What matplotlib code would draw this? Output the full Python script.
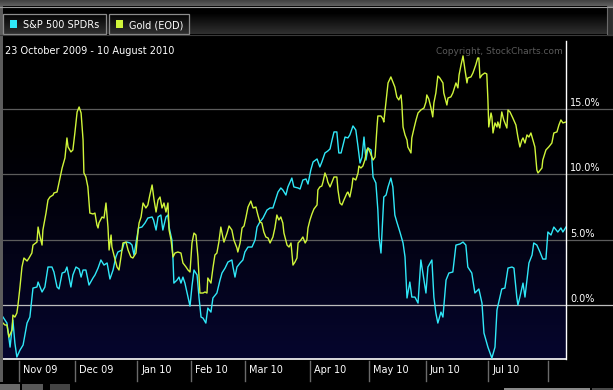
import numpy as np
import matplotlib.pyplot as plt
from matplotlib.patches import Rectangle
from matplotlib.lines import Line2D
from matplotlib.transforms import blended_transform_factory, offset_copy

plt.rcParams['font.family'] = 'DejaVu Sans'

# trading-session index (0 = 23 Oct 2009) and % change since start
sp_day = [
    0.0, 1.4, 2.5, 3.5, 4.2, 4.9, 6.0, 7.1, 8.5, 9.5,
    10.6, 12.0, 12.4, 13.8, 14.8, 15.9, 17.3, 18.0, 19.1, 19.8,
    20.9, 21.9, 22.6, 24.0, 24.7, 25.8, 26.9, 27.6, 28.3, 29.3,
    30.4, 31.8, 32.5, 33.6, 34.6, 35.7, 36.8, 37.8, 38.9, 39.9,
    40.6, 42.1, 42.8, 43.8, 44.9, 45.6, 46.3, 47.2, 47.9, 49.1,
    50.2, 51.2, 52.7, 53.2, 54.1, 54.8, 55.8, 56.5, 57.6, 58.3,
    58.7, 59.7, 60.1, 60.4, 61.5, 62.2, 62.9, 63.6, 64.3, 65.4,
    66.1, 66.8, 67.5, 68.6, 69.3, 70.0, 70.7, 71.7, 72.4, 73.5,
    74.2, 75.6, 76.7, 77.4, 78.5, 79.5, 80.9, 81.3, 82.0, 82.7,
    83.8, 84.8, 85.5, 86.6, 88.0, 89.1, 89.8, 90.8, 91.9, 93.3,
    94.4, 95.4, 96.5, 97.2, 98.2, 98.9, 100.0, 100.7, 102.1, 102.8,
    104.3, 105.0, 106.0, 107.1, 107.8, 108.8, 109.6, 111.0, 112.0, 112.7,
    113.8, 114.8, 115.6, 116.3, 117.0, 118.0, 118.7, 119.5, 120.2, 120.9,
    121.9, 122.6, 123.7, 124.7, 125.5, 126.2, 126.9, 127.6, 128.3, 129.0,
    130.1, 130.4, 130.8, 131.8, 132.5, 132.9, 133.6, 134.6, 135.4, 136.1,
    137.1, 137.8, 138.5, 139.2, 140.3, 141.4, 142.1, 142.8, 143.8, 144.5,
    145.6, 146.7, 147.7, 148.4, 149.5, 150.2, 151.6, 152.3, 153.0, 153.7,
    154.8, 155.5, 156.6, 157.6, 159.0, 160.1, 161.5, 162.6, 163.6, 164.3,
    165.7, 166.8, 168.2, 169.3, 170.0, 171.4, 172.8, 173.9, 174.6, 176.3,
    177.4, 178.5, 179.9, 180.6, 181.6, 182.0, 182.7, 183.8, 184.5, 185.2,
    185.9, 187.0, 187.6, 188.7, 189.8, 190.8, 191.9, 192.6, 193.7, 194.7,
    196.1, 197.2, 197.9, 199.0]
sp_pct = [
    -0.92, -1.38, -3.22, -1.15, -2.91, -3.98, -3.45, -3.06, -1.38, -0.92,
    1.30, 1.38, 1.76, 1.00, 1.38, 2.91, 2.91, 2.53, 1.38, 1.23,
    2.45, 2.53, 2.91, 1.38, 2.30, 2.91, 2.76, 2.14, 2.68, 2.68,
    1.53, 2.07, 2.30, 2.83, 3.45, 3.06, 3.22, 1.99, 2.68, 3.68,
    4.06, 4.21, 4.75, 4.82, 4.75, 4.59, 3.83, 4.98, 5.90, 5.97,
    6.28, 6.66, 6.74, 6.51, 5.74, 6.74, 6.89, 5.74, 6.74, 6.89,
    5.97, 4.98, 3.45, 1.68, 1.91, 2.14, 1.68, 2.14, 1.68, 0.61,
    -0.08, 1.45, 2.68, 2.30, 0.54, -0.92, -1.00, -1.38, -0.23, -0.54,
    0.54, 0.92, 1.91, 2.45, 2.83, 3.29, 3.45, 2.91, 2.14, 2.91,
    3.22, 3.45, 4.06, 4.44, 4.44, 4.98, 5.97, 6.36, 6.66, 7.27,
    7.43, 7.43, 8.19, 8.65, 8.96, 8.81, 8.42, 9.04, 9.72, 9.04,
    8.96, 8.88, 9.57, 9.65, 9.26, 10.34, 10.95, 11.18, 10.57, 10.95,
    11.64, 11.79, 11.95, 12.63, 13.25, 13.25, 11.64, 11.64, 12.25, 12.86,
    12.79, 13.02, 13.71, 13.40, 12.10, 10.87, 11.33, 12.86, 11.10, 12.02,
    11.87, 11.10, 9.80, 9.34, 7.27, 5.21, 3.98, 8.27, 8.42, 9.04,
    9.72, 9.04, 6.89, 6.36, 5.59, 4.75, 3.68, 0.54, 1.76, 0.61,
    0.61, 0.15, 3.45, 2.45, 0.92, 2.91, 3.45, 0.61, -0.61, -1.38,
    -0.54, -0.92, 1.91, 2.45, 2.53, 4.59, 4.67, 4.82, 4.59, 2.91,
    2.45, 0.92, 1.23, 0.15, -2.14, -3.22, -4.06, -3.22, -0.38, 1.23,
    1.30, 2.83, 2.91, 2.83, 0.61, 0.00, 0.61, 1.68, 0.61, 1.91,
    3.22, 3.83, 4.75, 4.59, 4.06, 3.52, 3.52, 5.59, 5.36, 5.97,
    5.59, 5.90, 5.59, 5.97]

gold_day = [
    0.0, 0.7, 1.4, 2.1, 3.2, 3.5, 4.2, 4.9, 5.3, 6.0,
    6.7, 7.4, 8.5, 9.2, 10.2, 10.6, 12.0, 12.4, 13.1, 13.8,
    14.1, 15.2, 15.9, 16.6, 17.7, 18.0, 19.1, 19.4, 20.1, 20.9,
    21.2, 21.9, 22.6, 23.0, 24.0, 24.7, 25.4, 26.2, 26.9, 27.6,
    28.3, 28.6, 29.3, 30.0, 30.7, 31.8, 32.5, 33.2, 33.6, 33.9,
    35.0, 35.7, 36.4, 37.1, 37.5, 38.2, 38.5, 39.2, 40.3, 41.0,
    41.7, 42.4, 43.5, 44.2, 45.2, 45.9, 47.0, 47.7, 48.1, 48.8,
    49.5, 50.5, 51.2, 51.9, 52.7, 53.4, 54.1, 54.8, 55.5, 56.2,
    56.9, 57.6, 58.3, 58.7, 59.4, 60.1, 60.8, 61.8, 62.9, 63.6,
    64.7, 65.4, 66.1, 66.8, 67.5, 68.2, 68.9, 69.6, 70.7, 71.4,
    72.1, 72.4, 73.5, 74.2, 74.9, 75.6, 76.3, 77.0, 77.7, 78.1,
    79.2, 79.9, 80.9, 81.6, 82.7, 83.0, 83.8, 84.5, 85.2, 85.9,
    86.6, 87.6, 88.4, 89.4, 90.1, 90.8, 91.5, 92.2, 92.9, 93.7,
    94.4, 95.4, 96.1, 96.8, 97.5, 98.2, 98.9, 99.3, 100.4, 101.1,
    101.8, 102.5, 103.2, 103.9, 104.3, 105.3, 106.0, 106.8, 107.4, 107.8,
    108.5, 109.2, 109.9, 111.0, 111.3, 112.0, 112.7, 113.1, 113.8, 114.5,
    114.8, 115.6, 116.3, 117.0, 118.0, 118.4, 119.1, 119.8, 120.5, 121.6,
    121.9, 122.6, 123.3, 123.7, 124.7, 125.5, 125.8, 126.5, 127.2, 127.9,
    128.6, 129.0, 129.7, 130.4, 130.8, 131.5, 132.2, 132.5, 133.6, 134.3,
    134.6, 135.7, 136.1, 137.1, 137.8, 138.5, 139.2, 139.9, 140.7, 141.0,
    141.4, 142.1, 142.8, 143.1, 144.2, 144.5, 145.3, 146.0, 146.7, 147.7,
    148.8, 149.5, 149.8, 150.5, 151.2, 151.9, 152.3, 153.0, 153.7, 154.4,
    155.5, 155.8, 156.9, 157.3, 158.3, 159.0, 160.1, 160.8, 161.2, 161.9,
    162.6, 163.3, 164.0, 164.3, 165.4, 166.1, 167.1, 167.8, 168.2, 168.6,
    169.3, 170.3, 171.0, 171.4, 171.7, 172.5, 172.8, 173.2, 173.9, 174.6,
    174.9, 175.6, 176.3, 177.0, 178.1, 178.5, 179.2, 180.2, 181.3, 182.0,
    182.7, 183.4, 183.8, 184.5, 185.2, 185.9, 186.6, 187.3, 188.0, 188.7,
    189.1, 190.5, 190.8, 191.9, 192.9, 194.0, 194.7, 195.8, 196.5, 197.2,
    197.9, 199.0]
gold_pct = [
    -1.38, -1.53, -1.53, -2.45, -1.91, -0.77, -0.92, -0.61, 0.00, 1.38,
    2.91, 3.60, 3.37, 3.60, 3.98, 4.59, 4.82, 5.97, 5.21, 4.59,
    5.74, 7.04, 8.04, 8.27, 8.42, 8.58, 8.65, 8.96, 9.72, 10.49,
    10.72, 11.26, 12.79, 12.10, 11.72, 11.87, 13.17, 14.78, 15.16, 14.70,
    12.63, 10.11, 9.80, 9.04, 7.04, 6.97, 7.04, 6.13, 5.90, 6.28,
    6.74, 6.66, 7.81, 5.97, 4.21, 5.36, 4.44, 3.83, 2.91, 2.68,
    3.68, 4.75, 4.82, 4.21, 3.68, 3.60, 3.98, 5.59, 6.28, 6.74,
    7.81, 7.43, 7.66, 8.42, 9.19, 8.04, 7.12, 8.04, 8.27, 7.43,
    7.81, 7.12, 7.81, 5.74, 4.98, 3.68, 3.98, 4.06, 3.98, 3.22,
    2.91, 2.68, 2.53, 4.75, 5.51, 5.36, 3.68, 0.92, 0.92, 1.00,
    0.92, 2.07, 1.68, 2.83, 3.83, 3.98, 4.82, 5.97, 5.21, 4.82,
    5.51, 6.05, 5.74, 4.98, 4.36, 4.06, 4.75, 5.90, 6.05, 6.74,
    7.50, 7.96, 7.43, 7.50, 6.89, 6.36, 6.28, 5.59, 5.21, 5.13,
    4.75, 5.21, 5.90, 6.89, 6.51, 6.74, 6.28, 5.51, 4.59, 4.44,
    4.75, 3.06, 3.29, 3.60, 4.75, 4.98, 5.21, 4.75, 4.98, 5.90,
    6.51, 6.97, 7.35, 7.66, 8.81, 9.04, 9.11, 9.42, 10.11, 9.72,
    9.42, 9.04, 9.42, 9.80, 9.80, 8.81, 7.81, 7.66, 8.04, 8.58,
    8.65, 8.27, 9.04, 9.72, 9.57, 10.11, 10.64, 10.49, 10.64, 11.10,
    11.87, 12.02, 11.72, 11.33, 11.10, 11.33, 13.63, 14.47, 14.47, 14.24,
    14.01, 16.23, 17.00, 17.46, 17.08, 16.69, 15.93, 15.70, 16.08, 15.31,
    13.63, 13.02, 12.63, 12.10, 11.64, 12.79, 13.55, 14.17, 14.70, 14.93,
    15.08, 15.54, 16.08, 15.77, 15.16, 14.40, 15.47, 16.23, 17.53, 17.38,
    17.00, 16.23, 15.31, 15.85, 15.93, 16.23, 17.00, 16.62, 17.61, 18.38,
    19.07, 17.99, 17.00, 17.38, 17.46, 17.76, 18.38, 18.91, 18.91, 17.38,
    17.61, 17.76, 17.69, 15.70, 13.63, 14.70, 14.40, 13.17, 13.94, 13.63,
    14.01, 13.55, 14.78, 14.17, 13.55, 14.93, 14.78, 14.32, 13.78, 12.86,
    12.10, 12.63, 12.79, 12.40, 13.02, 12.86, 13.17, 12.63, 12.10, 10.34,
    10.11, 10.49, 11.10, 11.87, 12.10, 12.40, 13.17, 13.25, 13.78, 14.17,
    13.94, 14.01]

# trading sessions per month, Oct 2009 .. Aug 2010
days_in_month = [6, 20, 22, 19, 19, 23, 21, 20, 22, 21, 7]
month_labels = ['Nov 09', 'Dec 09', 'Jan 10', 'Feb 10', 'Mar 10',
                'Apr 10', 'May 10', 'Jun 10', 'Jul 10']
grid_levels = [0, 5, 10, 15]
series_names = ['S&P 500 SPDRs', 'Gold (EOD)']
series_colors = ['#30e8f8', '#d0f53a']

W, H = 613, 390
fig = plt.figure(figsize=(W / 100, H / 100), dpi=100, facecolor='black')


def box(x0, y0, x1, y1):
    # pixel box (top-left origin) -> figure fraction rect
    return [x0 / W, 1 - y1 / H, (x1 - x0) / W, (y1 - y0) / H]


def rect(x0, y0, x1, y1, **kw):
    b = box(x0, y0, x1, y1)
    fig.add_artist(Rectangle((b[0], b[1]), b[2], b[3], transform=fig.transFigure, **kw))


def vgrad(b, top, bottom):
    a = fig.add_axes(box(*b))
    t = np.linspace(0, 1, 64)[:, None, None]
    img = np.array(top)[None, None, :] * (1 - t) + np.array(bottom)[None, None, :] * t
    a.imshow(img, aspect='auto', interpolation='bilinear')
    a.axis('off')
    return a


# window chrome
vgrad((0, 0, W, 6), (0.25, 0.25, 0.25), (0.38, 0.38, 0.38))
fig.add_artist(Line2D([0, 1], [1 - 6.5 / H] * 2, color='#9a9a9a', lw=0.8, transform=fig.transFigure))
vgrad((0, 13, W, 34), (0.0, 0.0, 0.0), (0.19, 0.19, 0.19))
fig.add_artist(Line2D([0, 1], [1 - 34.5 / H] * 2, color='#3a3a3a', lw=0.8, transform=fig.transFigure))
rect(607, 6, W, 35, facecolor='#2e2e2e', edgecolor='#6a6a6a', lw=0.8)
rect(0, 6, 2.5, 382, facecolor='#5c5c5c', edgecolor='none')

# tabs
rect(3, 14, 106, 34, facecolor='none', edgecolor='#8c8c8c', lw=0.9)
rect(109, 14, 189, 34, facecolor='none', edgecolor='#8c8c8c', lw=0.9)
rect(9.5, 20.5, 16.5, 27.5, facecolor=series_colors[0], edgecolor='none')
rect(115.5, 20.5, 122.5, 27.5, facecolor=series_colors[1], edgecolor='none')
fig.text(23 / W, 1 - 25.5 / H, series_names[0], color='white', fontsize=7, va='center')
fig.text(129 / W, 1 - 25.5 / H, series_names[1], color='white', fontsize=7, va='center')

# bottom scrollbar bits
rect(0, 384, 20, H, facecolor='#6a6a6a', edgecolor='none')
rect(22, 384, 43, H, facecolor='#585858', edgecolor='none')
rect(50, 384, 70, H, facecolor='#444444', edgecolor='none')
rect(504, 387.5, 590, H, facecolor='#8a8a8a', edgecolor='none')
rect(592, 387.5, W, H, facecolor='#4a4a4a', edgecolor='none')

# main plot
ax = fig.add_axes(box(3, 41, 566, 359))
y_lo, y_hi = -4.13, 20.21
x_hi = np.cumsum(days_in_month)[-1] - 1
ax.set_xlim(0, x_hi)
ax.set_ylim(y_lo, y_hi)

frac = np.linspace(0, 1, 300)
shade = np.clip((frac - 0.25) / 0.75, 0, 1) ** 1.2
navy = np.array([6, 6, 46]) / 255
bg = shade[:, None, None] * navy[None, None, :]
ax.imshow(bg, extent=(0, x_hi, y_lo, y_hi), aspect='auto', zorder=0, origin='upper')

ax.set_xticks([])
ax.set_yticks([])
for side in ['left', 'top']:
    ax.spines[side].set_visible(False)
ax.spines['bottom'].set_color('white')
ax.spines['bottom'].set_linewidth(1.2)
ax.spines['right'].set_color('white')
ax.spines['right'].set_linewidth(1.0)

ext = (W - 3) / (566 - 3)
ytrans = blended_transform_factory(ax.transAxes, ax.transData)
for lvl in grid_levels:
    ax.axhline(lvl, xmin=0, xmax=ext, color='#bdbdbd' if lvl == 0 else '#5c5c5c',
               lw=0.9, clip_on=False, zorder=1)
    ax.text((570 - 3) / (566 - 3), lvl, f'{lvl:.1f}%', color='white', fontsize=7,
            ha='left', va='bottom',
            transform=offset_copy(ytrans, fig=fig, x=0, y=1, units='dots'))

ax.plot(sp_day, sp_pct, color=series_colors[0], lw=1.0, zorder=3)
ax.plot(gold_day, gold_pct, color=series_colors[1], lw=1.0, zorder=4)

# month ticks at session boundaries
xtrans = blended_transform_factory(ax.transData, ax.transAxes)
tick_pos = np.cumsum(days_in_month)[:-1] - 0.5
plot_h = 359 - 41
for i, p in enumerate(tick_pos):
    ax.plot([p, p], [-1.5 / plot_h, -22 / plot_h], color='#6a6a6a', lw=1.0,
            transform=xtrans, clip_on=False)
    if i < len(month_labels):
        ax.text(p, -11 / plot_h, month_labels[i], color='white', fontsize=7,
                ha='left', va='center',
                transform=offset_copy(xtrans, fig=fig, x=4, y=0, units='dots'))

fig.text(5 / W, 1 - 51 / H, '23 October 2009 - 10 August 2010', color='white',
         fontsize=7, va='center', ha='left')
fig.text(563 / W, 1 - 51 / H, 'Copyright, StockCharts.com', color='#5a5a5a',
         fontsize=6.5, va='center', ha='right')

fig.savefig('out.png', dpi=100, facecolor='black')
